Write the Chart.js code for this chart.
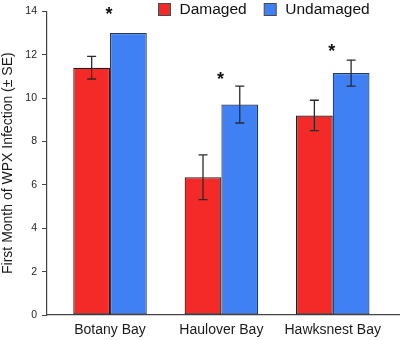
<!DOCTYPE html>
<html>
<head>
<meta charset="utf-8">
<script src="https://cdn.jsdelivr.net/npm/chart.js@4/dist/chart.umd.min.js"></script>
<style>
  html, body { margin: 0; padding: 0; background: #fff; }
  #wrap { width: 401px; height: 340px; }
</style>
</head>
<body>
<div id="wrap"><canvas id="chart"></canvas></div>
<script>
const sites = ["Botany Bay", "Haulover Bay", "Hawksnest Bay"];
const damaged = [11.4, 6.35, 9.2];
const damagedSE = [0.52, 1.03, 0.7];
const undamaged = [13.0, 9.7, 11.15];
const undamagedSE = [null, 0.85, 0.6];
const starAt = [13.98, 10.95, 12.25];   // value where each "*" sits
const yTicks = [0, 2, 4, 6, 8, 10, 12, 14];

const FONT = "'Liberation Sans', Arial, sans-serif";

// error bars, significance marks and legend
const extras = {
    id: "extras",
    afterDatasetsDraw(chart) {
        const ctx = chart.ctx;
        const y = chart.scales.y;
        const x = chart.scales.x;
        const errs = [damagedSE, undamagedSE];
        ctx.save();
        ctx.strokeStyle = "#2b2b2b";
        ctx.lineWidth = 1.3;
        chart.data.datasets.forEach((ds, d) => {
            chart.getDatasetMeta(d).data.forEach((bar, i) => {
                const se = errs[d][i];
                if (se == null) return;
                const v = ds.data[i].y;
                const top = y.getPixelForValue(v + se);
                const bot = y.getPixelForValue(v - se);
                ctx.beginPath();
                ctx.moveTo(bar.x, top); ctx.lineTo(bar.x, bot);
                ctx.moveTo(bar.x - 4.5, top); ctx.lineTo(bar.x + 4.5, top);
                ctx.moveTo(bar.x - 4.5, bot); ctx.lineTo(bar.x + 4.5, bot);
                ctx.stroke();
            });
        });
        ctx.fillStyle = "#111";
        ctx.font = "bold 18px " + FONT;
        ctx.textAlign = "center";
        ctx.textBaseline = "middle";
        starAt.forEach((v, i) => {
            ctx.fillText("*", x.getPixelForValue(i) - 1, y.getPixelForValue(v) + 3);
        });

        // legend
        ctx.font = "15.5px " + FONT;
        ctx.textAlign = "left";
        ctx.textBaseline = "middle";
        let lx = 158.5;
        const ly = 9.5;
        chart.data.datasets.forEach((ds) => {
            ctx.fillStyle = ds.backgroundColor;
            ctx.fillRect(lx, ly - 6, 12, 12);
            ctx.strokeStyle = "#4a4a4a";
            ctx.lineWidth = 1;
            ctx.strokeRect(lx, ly - 6, 12, 12);
            ctx.fillStyle = "#111";
            ctx.fillText(ds.label, lx + 21, ly + 0.5);
            lx += 21 + ctx.measureText(ds.label).width + 17.5;
        });
        ctx.restore();
    }
};

new Chart(document.getElementById("chart"), {
    type: "bar",
    data: {
        datasets: [{
            label: "Damaged",
            data: damaged.map((v, i) => ({ x: i, y: v })),
            backgroundColor: "#F42A28",
            borderColor: "#1d1d1d",
            borderWidth: 1.2,
            borderSkipped: false,
        }, {
            label: "Undamaged",
            data: undamaged.map((v, i) => ({ x: i, y: v })),
            backgroundColor: "#3F80F5",
            borderColor: "#2a3550",
            borderWidth: 1.2,
            borderSkipped: false,
        }],
    },
    options: {
        responsive: true,
        maintainAspectRatio: false,
        animation: false,
        categoryPercentage: 0.66,
        barPercentage: 1.0,
        layout: { padding: { top: 9.5, right: 2, left: 0, bottom: 0 } },
        plugins: {
            legend: { display: false },
            tooltip: { enabled: false },
        },
        scales: {
            x: {
                type: "linear",
                offset: false,
                min: -0.566,
                max: 2.595,
                afterFit: (s) => { s.height = 25; },
                grid: { display: false, drawTicks: false, offset: false },
                border: { display: true, color: "#444", width: 1.2 },
                ticks: {
                    stepSize: 1,
                    includeBounds: false,
                    autoSkip: false,
                    maxRotation: 0,
                    padding: 7,
                    color: "#1a1a1a",
                    font: { family: FONT, size: 14 },
                    callback: (v) => Number.isInteger(v) ? sites[v] : "",
                },
            },
            y: {
                min: 0,
                max: 14,
                afterFit: (s) => { s.width = 47; },
                afterBuildTicks: (s) => { s.ticks = yTicks.map(v => ({ value: v })); },
                grid: { display: true, drawOnChartArea: false, drawTicks: true, tickLength: 5, color: "#444" },
                border: { display: true, color: "#444", width: 1.2 },
                ticks: {
                    padding: 5,
                    color: "#1e1e1e",
                    font: { family: FONT, size: 10.5 },
                },
                title: {
                    display: true,
                    text: "First Month of WPX Infection (± SE)",
                    color: "#1a1a1a",
                    padding: { top: 0, bottom: 0 },
                    font: { family: FONT, size: 14 },
                },
            },
        },
    },
    plugins: [extras],
});
</script>
</body>
</html>
